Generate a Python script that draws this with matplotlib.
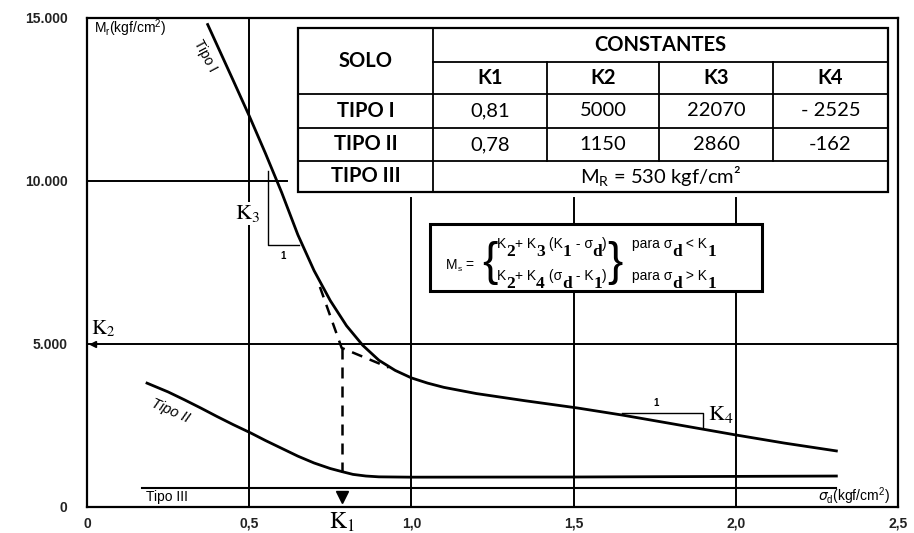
import matplotlib
matplotlib.use('Agg')
import matplotlib.pyplot as plt
from matplotlib.patches import Rectangle
from matplotlib.lines import Line2D

# ---------------- data ----------------
tipo1_x = [0.372, 0.45, 0.50, 0.55, 0.60, 0.65, 0.70, 0.75, 0.80, 0.85, 0.90, 0.95, 1.00,
           1.05, 1.10, 1.20, 1.35, 1.51, 1.65, 1.80, 2.00, 2.15, 2.31]
tipo1_y = [14800, 13100, 12000, 10850, 9650, 8350, 7250, 6330, 5560, 4960, 4500, 4190, 3960,
           3800, 3670, 3480, 3260, 3040, 2820, 2560, 2210, 1960, 1720]

tipo2_x = [0.185, 0.25, 0.30, 0.35, 0.40, 0.45, 0.505, 0.55, 0.60, 0.65, 0.70, 0.75, 0.788,
           0.82, 0.86, 0.90, 1.0, 1.5, 2.31]
tipo2_y = [3800, 3530, 3290, 3040, 2780, 2530, 2270, 2040, 1800, 1560, 1350, 1180, 1080,
           1000, 950, 925, 915, 920, 950]

tipo3_x = [0.17, 2.31]
tipo3_y = [580, 580]

# construction (dashed) lines
k3_ext_x = [0.718, 0.785, 0.93]
k3_ext_y = [6750, 4880, 4280]
k1_drop_x = [0.785, 0.785]
k1_drop_y = [4880, 1080]
k1_value = 0.785
k2_value = 5000

x_ticks = [0, 0.5, 1.0, 1.5, 2.0, 2.5]
x_tick_labels = ['0', '0,5', '1,0', '1,5', '2,0', '2,5']
y_ticks = [0, 5000, 10000, 15000]
y_tick_labels = ['0', '5.000', '10.000', '15.000']

table_solo = 'SOLO'
table_const = 'CONSTANTES'
k_names = ['K1', 'K2', 'K3', 'K4']
soil_types = ['TIPO I', 'TIPO II', 'TIPO III']
tipo1_consts = ['0,81', '5000', '22070', '- 2525']
tipo2_consts = ['0,78', '1150', '2860', '-162']
tipo3_text = r'$\mathregular{M_R}$ = 530 kgf/cm²'

# ---------------- figure ----------------
W, H = 914, 533
fig = plt.figure(figsize=(W / 100, H / 100), dpi=100)
fig.patch.set_facecolor('white')
ax = fig.add_axes([87 / W, 1 - 507 / H, (898 - 87) / W, (507 - 18) / H])
ax.set_xlim(0, 2.5)
ax.set_ylim(0, 15000)

for s in ax.spines.values():
    s.set_linewidth(1.6)
    s.set_zorder(10)

ax.set_xticks(x_ticks)
ax.set_xticklabels(x_tick_labels)
ax.set_yticks(y_ticks)
ax.set_yticklabels(y_tick_labels)
ax.tick_params(axis='both', length=0, labelsize=10)
ax.tick_params(axis='y', pad=14)
ax.tick_params(axis='x', pad=7)
for lab in ax.get_xticklabels() + ax.get_yticklabels():
    lab.set_family('Liberation Sans')
    lab.set_fontweight('bold')
    lab.set_color('#222222')

K = 'black'
glw = 1.4
# grid lines
ax.plot([0.5, 0.5], [0, 15000], color=K, lw=glw, zorder=2)
for gx in [1.0, 1.5, 2.0]:
    ax.plot([gx, gx], [0, 9480], color=K, lw=glw, zorder=2)
ax.plot([0, 0.615], [10000, 10000], color=K, lw=glw, zorder=2)
ax.plot([0, 2.5], [k2_value, k2_value], color=K, lw=glw, zorder=2)
ax.plot([0.018], [k2_value], marker='<', color=K, markersize=5, zorder=3)

# curves
clw = 2.0
ax.plot(tipo1_x, tipo1_y, color=K, lw=clw, zorder=5)
ax.plot(tipo2_x, tipo2_y, color=K, lw=clw, zorder=5)
ax.plot(tipo3_x, tipo3_y, color=K, lw=1.5, zorder=5)

# dashed construction
ax.plot(k3_ext_x, k3_ext_y, color=K, lw=1.8, dashes=(4.4, 3.2), zorder=4)
ax.plot(k1_drop_x, k1_drop_y, color=K, lw=1.8, dashes=(4.4, 3.2), zorder=4)
ax.plot([k1_value], [300], marker='v', color=K, markersize=9, zorder=6)

# slope triangles
ax.plot([0.557, 0.557, 0.655], [10300, 8037, 8037], color=K, lw=1.0, zorder=3)
ax.text(0.603, 7700, '1', fontsize=7, ha='center', va='center', family='Liberation Sans', fontweight='bold')
ax.plot([1.649, 1.90, 1.90], [2883, 2883, 2423], color=K, lw=1.0, zorder=3)
ax.text(1.754, 3190, '1', fontsize=7, ha='center', va='center', family='Liberation Sans', fontweight='bold')

# K labels (serif)
kprops = dict(math_fontfamily='stix', color='black', zorder=7)
ax.text(0.495, 9000, r'$\mathrm{K}_{\mathrm{3}}$', fontsize=16, ha='center', va='center',
        bbox=dict(facecolor='white', edgecolor='none', pad=1), **kprops)
ax.text(0.012, 5480, r'$\mathrm{K}_{\mathrm{2}}$', fontsize=15, ha='left', va='center', **kprops)
ax.text(1.915, 2830, r'$\mathrm{K}_{\mathrm{4}}$', fontsize=16, ha='left', va='center', **kprops)
ax.text(k1_value, -470, r'$\mathrm{K}_{\mathrm{1}}$', fontsize=17, ha='center', va='center',
        clip_on=False, **kprops)

# curve labels
ax.text(0.363, 13850, 'Tipo I', rotation=-62, fontsize=10, ha='center', va='center', family='Liberation Sans')
ax.text(0.258, 2960, 'Tipo II', rotation=-24, fontsize=10.5, ha='center', va='center',
        family='Liberation Sans', style='italic')
ax.text(0.246, 310, 'Tipo III', fontsize=10, ha='center', va='center', family='Liberation Sans')

# axis labels
ax.text(0.022, 14690, r'M$_\mathregular{r}$(kgf/cm$^\mathregular{2}$)', fontsize=10, ha='left', va='center',
        family='Liberation Sans')
ax.text(2.475, 340, r'$\sigma_\mathregular{d}$(kgf/cm$^\mathregular{2}$)', fontsize=10, ha='right', va='center',
        family='Liberation Sans')

# ---------------- table (figure pixel coordinates) ----------------
def fx(x):
    return x / W

def fy(y):
    return 1 - y / H

cols = [298, 433, 547, 659, 773, 888]
rows = [28, 62, 94, 128, 161, 192]

def hline(x0, x1, y, lw=1.3):
    fig.add_artist(Line2D([fx(x0), fx(x1)], [fy(y), fy(y)], color='black', lw=lw, zorder=20))

def vline(x, y0, y1, lw=1.3):
    fig.add_artist(Line2D([fx(x), fx(x)], [fy(y0), fy(y1)], color='black', lw=lw, zorder=20))

fig.add_artist(Rectangle((fx(cols[0]), fy(rows[-1])), fx(cols[-1]) - fx(cols[0]), fy(rows[0]) - fy(rows[-1]),
                         transform=fig.transFigure, facecolor='white', edgecolor='black', lw=1.6, zorder=19))
hline(cols[1], cols[-1], rows[1])
for r in rows[2:5]:
    hline(cols[0], cols[-1], r)
vline(cols[1], rows[0], rows[-1])
for c in cols[2:5]:
    vline(c, rows[1], rows[4])

tfont = dict(family='Lato', fontsize=14.5, ha='center', va='center', zorder=21)

def cell_text(cx, cy, s, bold=False):
    fig.text(fx(cx), fy(cy), s, fontweight='bold' if bold else 'normal', **tfont)

cell_text((cols[0] + cols[1]) / 2, (rows[0] + rows[2]) / 2, table_solo, True)
cell_text((cols[1] + cols[-1]) / 2, (rows[0] + rows[1]) / 2, table_const, True)
for i, k in enumerate(k_names):
    cell_text((cols[i + 1] + cols[i + 2]) / 2, (rows[1] + rows[2]) / 2, k, True)
for j, st in enumerate(soil_types):
    cell_text((cols[0] + cols[1]) / 2, (rows[j + 2] + rows[j + 3]) / 2, st, True)
for i, v in enumerate(tipo1_consts):
    cell_text((cols[i + 1] + cols[i + 2]) / 2, (rows[2] + rows[3]) / 2, v)
for i, v in enumerate(tipo2_consts):
    cell_text((cols[i + 1] + cols[i + 2]) / 2, (rows[3] + rows[4]) / 2, v)
cell_text((cols[1] + cols[-1]) / 2, (rows[4] + rows[5]) / 2, tipo3_text)

# ---------------- formula box ----------------
bx0, by0, bx1, by1 = 430, 224, 762, 291
fig.add_artist(Rectangle((fx(bx0), fy(by1)), fx(bx1) - fx(bx0), fy(by0) - fy(by1),
                         transform=fig.transFigure, facecolor='white', edgecolor='black', lw=2.2, zorder=19))

renderer = fig.canvas.get_renderer()
BASE = dict(family=['Liberation Sans Narrow', 'Liberation Sans'], fontsize=10)
SUB = dict(family='Liberation Serif', fontsize=12.5, fontweight='bold')


def seq(x_px, y_base, pieces):
    x = x_px
    for s, kind in pieces:
        props = BASE if kind == 'b' else SUB
        dy = 0 if kind == 'b' else 8
        t = fig.text(fx(x), fy(y_base + dy), s, ha='left', va='baseline', zorder=21, **props)
        x += t.get_window_extent(renderer).width


fig.text(fx(446), fy(269), 'M', ha='left', va='baseline', zorder=21, **BASE)
fig.text(fx(457.5), fy(271), 's', fontsize=6, family='Liberation Sans', ha='left', va='baseline', zorder=21)
fig.text(fx(465), fy(269), '=', ha='left', va='baseline', zorder=21, **BASE)
fig.text(fx(490), fy(263), '{', fontsize=33, family='Liberation Sans', ha='center', va='center', zorder=21)
fig.text(fx(615), fy(263), '}', fontsize=33, family='Liberation Sans', ha='center', va='center', zorder=21)

seq(497, 248, [('K', 'b'), ('2', 's'), ('+ K', 'b'), ('3', 's'), (' (K', 'b'), ('1', 's'),
               (' - σ', 'b'), ('d', 's'), (')', 'b')])
seq(497, 280, [('K', 'b'), ('2', 's'), ('+ K', 'b'), ('4', 's'), (' (σ', 'b'), ('d', 's'),
               (' - K', 'b'), ('1', 's'), (')', 'b')])
seq(632, 248, [('para σ', 'b'), ('d', 's'), (' < K', 'b'), ('1', 's')])
seq(632, 280, [('para σ', 'b'), ('d', 's'), (' > K', 'b'), ('1', 's')])

fig.savefig('out.png', dpi=100)
